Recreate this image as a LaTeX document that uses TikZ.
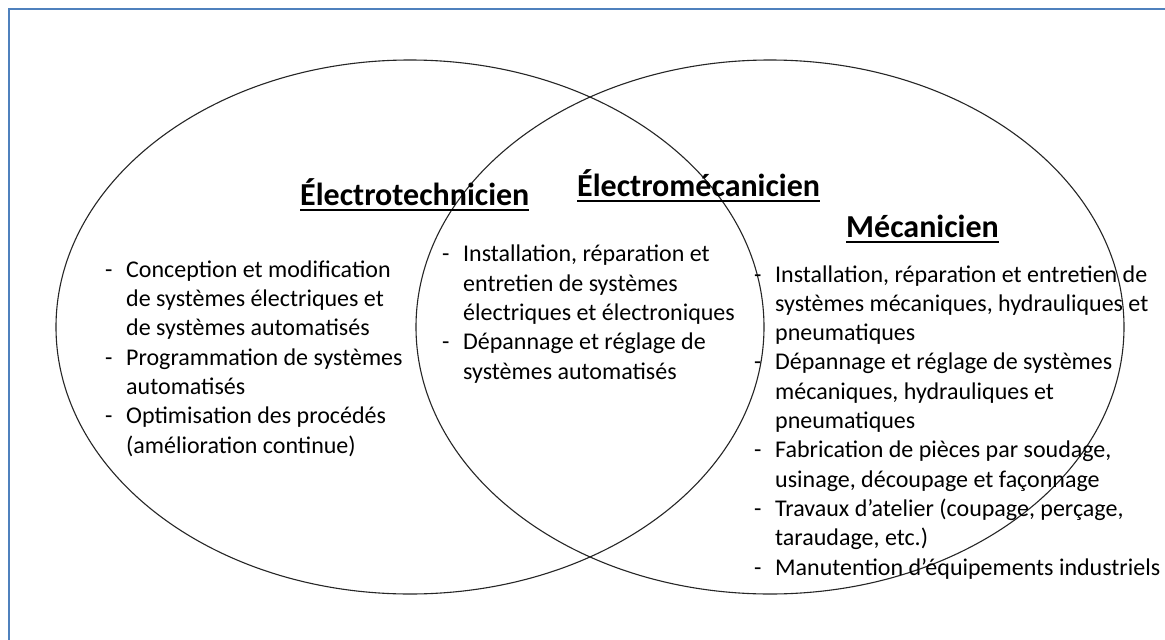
\documentclass[tikz,border=0pt]{standalone}
\usepackage{fontspec}
\setmainfont{Carlito}
\usetikzlibrary{shapes.geometric}
\definecolor{frameblue}{RGB}{79,129,189}
\newcommand\itm{\makebox[21pt][l]{-}}
\newcommand\ind{\makebox[21pt]{}}
\newcommand\hul[1]{\setbox0\hbox{#1}\rlap{\rule[-6pt]{\wd0}{2pt}}\box0}
\tikzset{
  venn/.style={draw=black!85, line width=1.1pt, ellipse, minimum width=708pt, minimum height=534pt, inner sep=0pt},
  head/.style={font=\fontsize{32}{39}\selectfont\bfseries, inner sep=0pt, anchor=base west},
  list/.style={font=\fontsize{24}{29.3}\selectfont, align=left, inner sep=0pt, anchor=base west},
}
\begin{document}
\begin{tikzpicture}[x=1pt,y=-1pt]
\useasboundingbox (0,0) rectangle (1165,640);
\fill[white] (0,0) rectangle (1165,640);
\draw[frameblue, line width=2pt] (9,640) -- (9,9) -- (1165,9);
\node[venn] (L) at (410,327) {};
\node[venn] (R) at (770,327) {};
\node[head] (h1) at (300,205) {\hul{Électrotechnicien}};
\node[head] (h2) at (577,196) {\hul{Électromécanicien}};
\node[head] (h3) at (846,237) {\hul{Mécanicien}};
% base anchor = baseline of the last line
\node[list] (l1) at (105,453) {\itm Conception et modification\\
\ind de systèmes électriques et\\
\ind de systèmes automatisés\\
\itm Programmation de systèmes\\
\ind automatisés\\
\itm Optimisation des procédés\\
\ind (amélioration continue)};
\node[list] (l2) at (442,379) {\itm Installation, réparation et\\
\ind entretien de systèmes\\
\ind électriques et électroniques\\
\itm Dépannage et réglage de\\
\ind systèmes automatisés};
\node[list] (l3) at (754,575) {\itm Installation, réparation et entretien de\\
\ind systèmes mécaniques, hydrauliques et\\
\ind pneumatiques\\
\itm Dépannage et réglage de systèmes\\
\ind mécaniques, hydrauliques et\\
\ind pneumatiques\\
\itm Fabrication de pièces par soudage,\\
\ind usinage, découpage et façonnage\\
\itm Travaux d’atelier (coupage, perçage,\\
\ind taraudage, etc.)\\
\itm Manutention d’équipements industriels};
\end{tikzpicture}
\end{document}
